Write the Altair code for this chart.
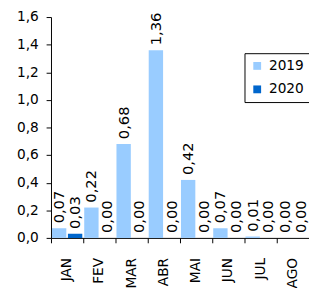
import altair as alt
import pandas as pd

months = ["JAN", "FEV", "MAR", "ABR", "MAI", "JUN", "JUL", "AGO"]
v2019 = [0.07, 0.22, 0.68, 1.36, 0.42, 0.07, 0.01, 0.00]
v2020 = [0.03, 0.00, 0.00, 0.00, 0.00, 0.00, 0.00, 0.00]
series = ["2019", "2020"]
colors = ["#99CCFF", "#0066CC"]
y_ticks = [0.0, 0.2, 0.4, 0.6, 0.8, 1.0, 1.2, 1.4, 1.6]

rows = []
for m, a, b in zip(months, v2019, v2020):
    rows.append({"mes": m, "ano": "2019", "valor": a})
    rows.append({"mes": m, "ano": "2020", "valor": b})
df = pd.DataFrame(rows)

FONT = "DejaVu Sans"

x = alt.X("mes:N", sort=months, title=None,
          scale=alt.Scale(paddingInner=0.06, paddingOuter=0.03),
          axis=alt.Axis(labelAngle=-90, labelFontSize=14, labelFont=FONT,
                        labelColor="black", tickColor="black", domainColor="black",
                        tickSize=5, labelPadding=15, bandPosition=0, grid=False))
xo = alt.XOffset("ano:N", sort=series, scale=alt.Scale(paddingInner=0.1))
y = alt.Y("valor:Q", title=None,
          scale=alt.Scale(domain=[0, 1.6], nice=False, zero=True),
          axis=alt.Axis(values=y_ticks, tickCount=9,
                        labelExpr="replace(format(datum.value, '.1f'), '.', ',')",
                        labelOverlap=False,
                        labelFontSize=14, labelFont=FONT, labelColor="black",
                        tickColor="black", domainColor="black", tickSize=5,
                        labelPadding=8, grid=False))

base = alt.Chart(df)

bars = base.mark_bar().encode(
    x=x, xOffset=xo, y=y,
    color=alt.Color("ano:N", sort=series,
                    scale=alt.Scale(domain=series, range=colors),
                    legend=alt.Legend(title=None, orient="none", legendX=198, legendY=37,
                                      strokeColor="black", fillColor="white", padding=6,
                                      symbolType="square", symbolSize=64, symbolStrokeWidth=0,
                                      labelOffset=5,
                                      labelFontSize=14, labelFont=FONT, labelColor="black",
                                      rowPadding=10, cornerRadius=0)),
)

labels = base.transform_calculate(
    rotulo="replace(format(datum.valor, '.2f'), '.', ',')"
).mark_text(angle=270, align="left", baseline="middle", dx=5,
            fontSize=15, font=FONT, color="black").encode(
    x=x, xOffset=xo, y=y, text="rotulo:N",
)

chart = alt.layer(bars, labels).properties(
    width=264, height=226,
    autosize=alt.AutoSizeParams(type="none"),
    padding={"left": 44, "top": 6, "right": 0, "bottom": 48},
    background="white",
).configure_view(stroke=None)

chart.save("out.html", embed_options={"renderer": "svg", "actions": False})
